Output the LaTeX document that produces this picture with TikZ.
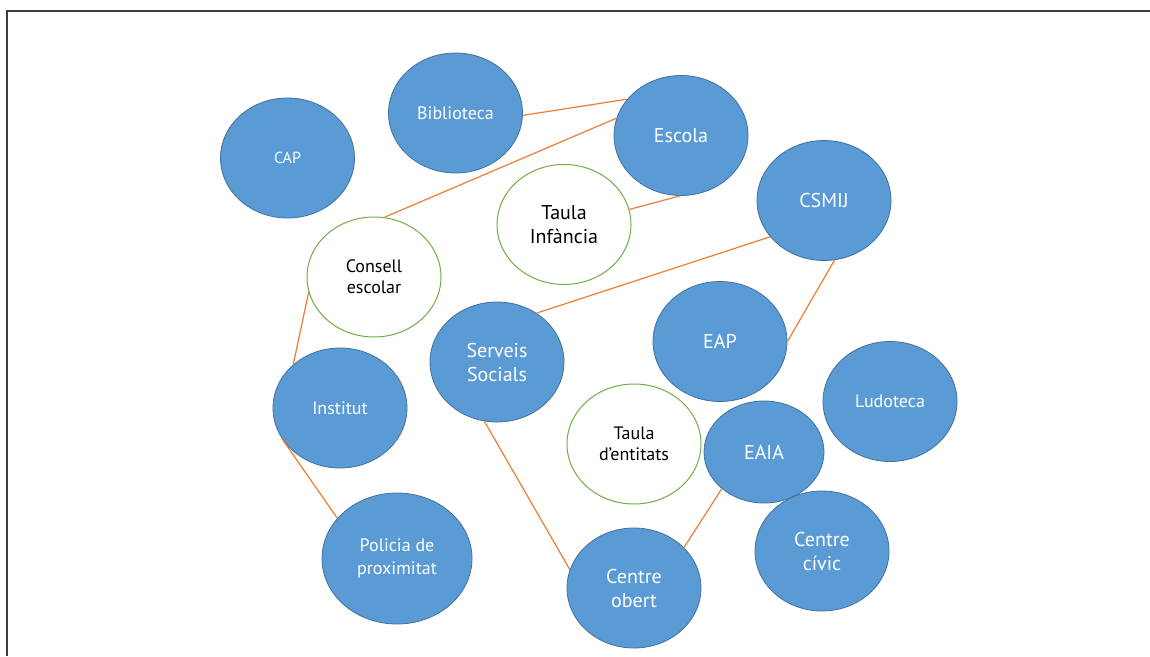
\documentclass[tikz,border=0pt]{standalone}
\usepackage{fontspec}
\setmainfont{PT Sans}
\usetikzlibrary{shapes.geometric}
\definecolor{nodeblue}{HTML}{5B9BD5}
\definecolor{nodeedge}{HTML}{41719C}
\definecolor{ringgreen}{HTML}{70AD47}
\definecolor{linkorange}{HTML}{ED7D31}
\definecolor{framegray}{HTML}{3C3C3C}

\begin{document}
\begin{tikzpicture}[x=1pt,y=-1pt,
  blue node/.style={ellipse,draw=nodeedge,fill=nodeblue,line width=0.8pt,text=white,
    minimum width=134pt,minimum height=120pt,inner sep=0pt,align=center},
  green node/.style={ellipse,draw=ringgreen,fill=white,line width=1pt,text=black,
    minimum width=134pt,minimum height=120pt,inner sep=0pt,align=center},
  big text/.style={font=\fontsize{20}{24}\selectfont},
  mid text/.style={font=\fontsize{18}{21}\selectfont},
  small text/.style={font=\fontsize{16}{19}\selectfont},
  link/.style={draw=linkorange,line width=1.2pt}]

    \useasboundingbox (0,0) rectangle (1150,656);
    \draw[framegray,line width=2pt] (7,656) -- (7,10.5) -- (1150,10.5);

    % blue services
    \node[blue node,small text] (cap) at (287.5,158) {CAP};
    \node[blue node,mid text] (bib) at (455.5,113) {Biblioteca};
    \node[blue node,big text] (esc) at (681,135.5) {Escola};
    \node[blue node,big text] (csmij) at (824,200.5) {CSMIJ};
    \node[blue node,big text] (serv) at (497,362) {Serveis\\Socials};
    \node[blue node,mid text] (inst) at (340,408) {Institut};
    \node[blue node,big text] (eap) at (720,341.5) {EAP};
    \node[blue node,mid text] (ludo) at (890,401.5) {Ludoteca};
    \node[blue node,big text,minimum width=120pt,minimum height=102pt] (eaia) at (764,452) {EAIA};
    \node[blue node,big text] (civic) at (822,551) {Centre\\cívic};
    \node[blue node,big text] (obert) at (634,588) {Centre\\obert};
    \node[blue node,font=\fontsize{18}{23}\selectfont,minimum width=150pt,minimum height=131pt] (pol) at (397,558.5) {Policia de\\proximitat};

    % tables and councils
    \node[green node,big text] (tinf) at (564,224.5) {Taula\\Infància};
    \node[green node,mid text] (cons) at (374,277) {Consell\\escolar};
    \node[green node,mid text] (tent) at (634,444) {Taula\\d’entitats};

    \path[every edge/.style={link}]
      (bib.-2) edge (esc.146)
      (cons.80) edge (esc.165)
      (tinf.13) edge (esc.-91)
      (serv.51) edge (csmij.214)
      (csmij.-80) edge (eap.0)
      (cons.193) edge (inst.137)
      (inst.208) edge (pol.146)
      (serv.258) edge (obert.164)
      (eaia.221) edge (obert.39);
\end{tikzpicture}
\end{document}
